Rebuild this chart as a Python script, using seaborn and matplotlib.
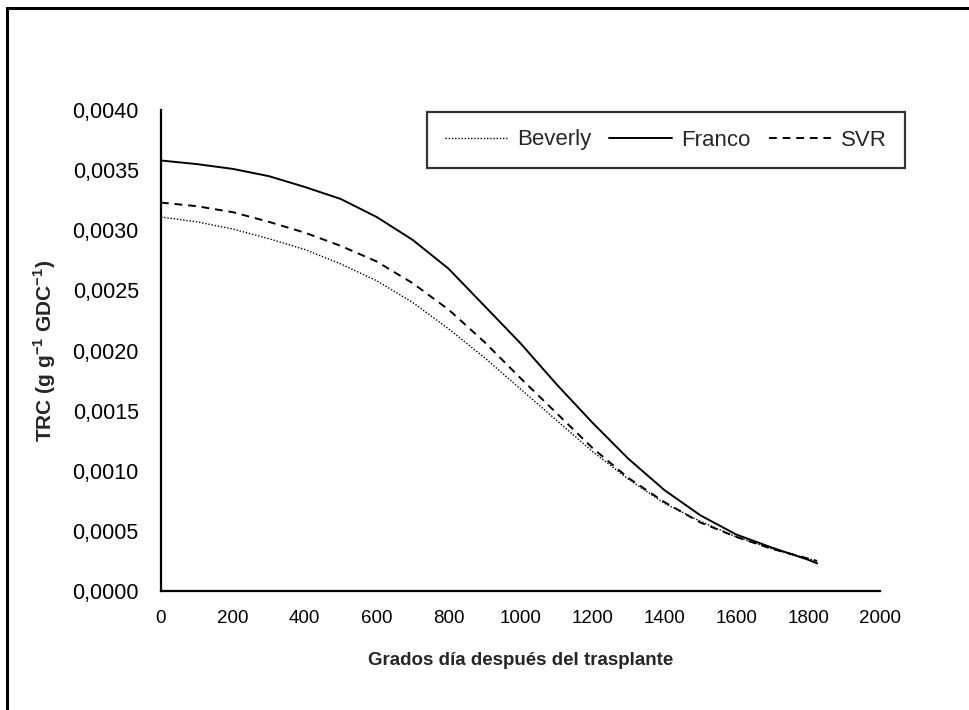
import numpy as np
import pandas as pd
import matplotlib
matplotlib.use("Agg")
import matplotlib.pyplot as plt
import seaborn as sns
from matplotlib.patches import Rectangle
from matplotlib.lines import Line2D
from matplotlib.ticker import FuncFormatter

# ---- data ----
gdd = [0, 100, 200, 300, 400, 500, 600, 700, 800, 900, 1000, 1100, 1200,
       1300, 1400, 1500, 1600, 1700, 1800, 1825]
beverly = [0.00311, 0.00307, 0.00301, 0.00293, 0.00284, 0.00272, 0.00258,
           0.00240, 0.00218, 0.00194, 0.00168, 0.00142, 0.00116, 0.00093,
           0.00073, 0.00058, 0.00045, 0.00035, 0.00027, 0.00025]
franco = [0.00358, 0.00355, 0.00351, 0.00345, 0.00336, 0.00326, 0.00311,
          0.00292, 0.00268, 0.00237, 0.00206, 0.00172, 0.00140, 0.00110,
          0.00084, 0.00063, 0.00047, 0.00036, 0.00026, 0.00023]
svr = [0.00323, 0.00320, 0.00315, 0.00307, 0.00298, 0.00287, 0.00274,
       0.00256, 0.00234, 0.00207, 0.00177, 0.00148, 0.00119, 0.00094,
       0.00074, 0.00057, 0.00045, 0.00035, 0.00027, 0.00025]
series_names = ["Beverly", "Franco", "SVR"]
x_ticks = [0, 200, 400, 600, 800, 1000, 1200, 1400, 1600, 1800, 2000]
y_ticks = [0.0, 0.0005, 0.0010, 0.0015, 0.0020, 0.0025, 0.0030, 0.0035, 0.0040]

df = pd.DataFrame({
    "x": gdd * 3,
    "y": beverly + franco + svr,
    "serie": sum([[n] * len(gdd) for n in series_names], []),
})

sns.set_theme(style="white")
plt.rcParams["font.family"] = ["Liberation Sans", "DejaVu Sans"]
plt.rcParams["mathtext.fontset"] = "custom"
plt.rcParams["mathtext.rm"] = "Liberation Sans"
plt.rcParams["mathtext.bf"] = "Liberation Sans:bold"

fig = plt.figure(figsize=(9.7, 7.1), dpi=100)
ax = fig.add_axes([161/970, (710-591)/710, (880-161)/970, (591-110)/710])

dashes = {"Beverly": (1, 1.3), "Franco": "", "SVR": (4, 3)}
sizes = {"Beverly": 1.0, "Franco": 1.4, "SVR": 1.4}
sns.lineplot(data=df, x="x", y="y", hue="serie", style="serie",
             palette={n: "black" for n in series_names}, dashes=dashes,
             size="serie", sizes=sizes, ax=ax, legend=False)

ax.set_xlim(0, 2000)
ax.set_ylim(0, 0.0040)
ax.set_xticks(x_ticks)
ax.set_yticks(y_ticks)
ax.yaxis.set_major_formatter(FuncFormatter(lambda v, p: f"{v:.4f}".replace(".", ",")))
ax.xaxis.set_major_formatter(FuncFormatter(lambda v, p: f"{int(v)}"))
for s in ["top", "right"]:
    ax.spines[s].set_visible(False)
for s in ["left", "bottom"]:
    ax.spines[s].set_color("black")
    ax.spines[s].set_linewidth(1.6)
ax.tick_params(axis="both", direction="out", length=5, width=1.2, color="black",
               labelcolor="black")
ax.tick_params(axis="y", labelsize=15.5, pad=11)
ax.tick_params(axis="x", labelsize=13.5, pad=9)

ax.set_xlabel("Grados día después del trasplante", fontsize=13.5, fontweight="bold",
              labelpad=18)
ax.set_ylabel(r"TRC (g g$^{\mathbf{-1}}$ GDC$^{\mathbf{-1}}$)", fontsize=15,
              fontweight="bold", labelpad=10)

# legend
handles = [
    Line2D([0], [0], color="black", lw=1.0, dashes=(1, 1.3)),
    Line2D([0], [0], color="black", lw=1.4),
    Line2D([0], [0], color="black", lw=1.4, dashes=(4, 3)),
]
leg = fig.legend(handles, series_names, loc="center",
                 bbox_to_anchor=(666/970, (710-140)/710), ncol=3, frameon=True,
                 fancybox=False, fontsize=16, handlelength=2.8,
                 columnspacing=0.8, handletextpad=0.45, borderpad=0.8,
                 borderaxespad=0)
leg.get_frame().set_edgecolor("black")
leg.get_frame().set_linewidth(1.6)

# outer frame (only top and left edges visible)
fig.patches.append(Rectangle((7/970, -0.1), 1.2, (710-8)/710 + 0.1,
                             transform=fig.transFigure, fill=False,
                             edgecolor="black", linewidth=2.2))

fig.savefig("out.png", dpi=100)
